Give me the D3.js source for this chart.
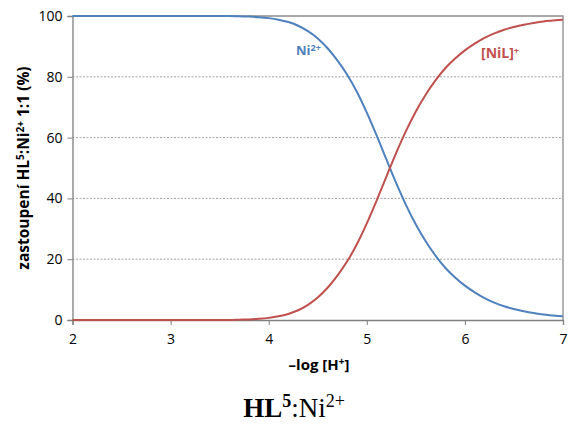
<!DOCTYPE html>
<html>
<head>
<meta charset="utf-8">
<script src="https://cdn.jsdelivr.net/npm/d3@7"></script>
<style>
  body { margin: 0; background: #fff; }
  svg text { font-family: "Open Sans", Lato, sans-serif; }
</style>
</head>
<body>
<svg id="chart" width="578" height="427"></svg>
<script>
// -log[H+] values, read at 0.1 steps
const pH = d3.range(20, 71).map(v => v / 10);

// [NiL]+ share (%)
const nil = [
  0, 0, 0, 0, 0, 0, 0, 0, 0, 0,
  0, 0, 0, 0, 0, 0, 0, 0.1, 0.2, 0.4,
  0.7, 1.2, 2.0, 3.2, 5.0, 7.4, 10.6, 14.6, 19.3, 25.0,
  31.8, 39.3, 47.2, 55.0, 62.2, 68.6, 74.1, 78.8, 82.8, 86.0,
  88.7, 90.9, 92.8, 94.3, 95.5, 96.4, 97.1, 97.7, 98.2, 98.5,
  98.8
];

// Ni2+ share (%)
const ni = [
  100, 100, 100, 100, 100, 100, 100, 100, 100, 100,
  100, 100, 100, 100, 100, 100, 100, 99.9, 99.8, 99.6,
  99.3, 98.8, 98.0, 96.8, 95.0, 92.6, 89.4, 85.4, 80.7, 75.0,
  68.2, 60.7, 52.8, 45.0, 37.8, 31.4, 25.9, 21.2, 17.2, 14.0,
  11.3, 9.1, 7.2, 5.7, 4.5, 3.6, 2.9, 2.3, 1.8, 1.5,
  1.2
];

const xTicks = [2, 3, 4, 5, 6, 7];
const yTicks = [0, 20, 40, 60, 80, 100];

const margin = { left: 72.5, right: 15, top: 16, bottom: 107 };
const W = 578, H = 427;
const svg = d3.select("#chart");

const x = d3.scaleLinear().domain([2, 7]).range([margin.left, W - margin.right]);
const y = d3.scaleLinear().domain([0, 100]).range([H - margin.bottom, margin.top]);

// gridlines
svg.append("g")
  .selectAll("line")
  .data(yTicks.filter(d => d > 0 && d < 100))
  .join("line")
  .attr("x1", x(2)).attr("x2", x(7))
  .attr("y1", d => y(d)).attr("y2", d => y(d))
  .attr("stroke", "#a6a6a6")
  .attr("stroke-width", 1)
  .attr("stroke-dasharray", "2,1.5");

// frame top and right
svg.append("path")
  .attr("d", `M${x(2)},${y(100)}H${x(7)}V${y(0)}`)
  .attr("fill", "none")
  .attr("stroke", "#8c8c8c")
  .attr("stroke-width", 1.3);

// axes
const xAxis = svg.append("g")
  .attr("transform", `translate(0,${y(0)})`)
  .call(d3.axisBottom(x).tickValues(xTicks).tickSize(5).tickPadding(9).tickFormat(d3.format("d")));
const yAxis = svg.append("g")
  .attr("transform", `translate(${x(2)},0)`)
  .call(d3.axisLeft(y).tickValues(yTicks).tickSize(5).tickPadding(5));

[xAxis, yAxis].forEach(g => {
  g.select(".domain").attr("stroke", "#7f7f7f").attr("stroke-width", 1.3);
  g.selectAll(".tick line").attr("stroke", "#7f7f7f");
  g.selectAll(".tick text").attr("fill", "#000").style("font-size", "14px")
    .style("font-family", "'Open Sans', sans-serif");
});

// curves
const line = vals => d3.line()
  .x((d, i) => x(pH[i]))
  .y(d => y(d))
  .curve(d3.curveMonotoneX)(vals);

svg.append("path").attr("d", line(ni))
  .attr("fill", "none").attr("stroke", "#4f81bd").attr("stroke-width", 2);
svg.append("path").attr("d", line(nil))
  .attr("fill", "none").attr("stroke", "#c0504d").attr("stroke-width", 2);

// series labels
const niLab = svg.append("text")
  .attr("x", 296).attr("y", 55)
  .attr("fill", "#4f81bd").style("font-size", "13px").style("font-weight", "bold");
niLab.append("tspan").text("Ni");
niLab.append("tspan").attr("dy", -4).style("font-size", "9px").text("2+");

const nilLab = svg.append("text")
  .attr("x", 481).attr("y", 58)
  .attr("fill", "#c0504d").style("font-size", "14px").style("font-weight", "bold");
nilLab.append("tspan").text("[NiL]");
nilLab.append("tspan").attr("dy", -4).style("font-size", "9px").text("+");

// x axis title
const xt = svg.append("text")
  .attr("x", 319).attr("y", 370)
  .attr("text-anchor", "middle")
  .style("font-size", "15px").style("font-weight", "bold");
xt.append("tspan").text("\u2013log [H");
xt.append("tspan").attr("dy", -5).style("font-size", "10px").text("+");
xt.append("tspan").attr("dy", 5).text("]");

// y axis title
const yt = svg.append("text")
  .attr("transform", `translate(29,${(y(0) + y(100)) / 2}) rotate(-90)`)
  .attr("text-anchor", "middle")
  .style("font-size", "15.5px").style("font-weight", "bold");
yt.append("tspan").text("zastoupení HL");
yt.append("tspan").attr("dy", -5).style("font-size", "10px").text("5");
yt.append("tspan").attr("dy", 5).text(":Ni");
yt.append("tspan").attr("dy", -5).style("font-size", "10px").text("2+");
yt.append("tspan").attr("dy", 5).text(" 1:1 (%)");

// caption below the chart
const cap = svg.append("text")
  .attr("x", 294).attr("y", 417)
  .attr("text-anchor", "middle")
  .style("font-family", "'Liberation Serif', 'Times New Roman', serif")
  .style("font-size", "27px");
cap.append("tspan").style("font-weight", "bold").text("HL");
cap.append("tspan").attr("dy", -10).style("font-weight", "bold").style("font-size", "18px").text("5");
cap.append("tspan").attr("dy", 10).text(":Ni");
cap.append("tspan").attr("dy", -10).style("font-size", "18px").text("2+");
</script>
</body>
</html>
